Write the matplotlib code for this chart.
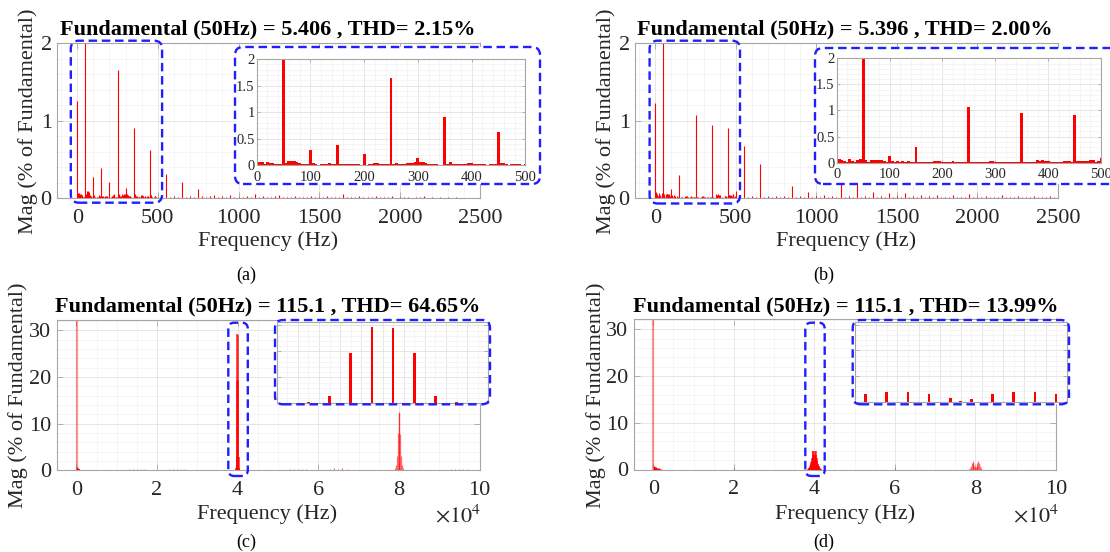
import numpy as np
import matplotlib
matplotlib.use("Agg")
import matplotlib.pyplot as plt
from matplotlib.patches import FancyBboxPatch
from matplotlib.ticker import MultipleLocator, FuncFormatter
from matplotlib.transforms import IdentityTransform

# ---------------------------------------------------------------- data
# Low-frequency spectra (5 Hz bins, 0..500 Hz), magnitude in % of fundamental
a_low_mag = [
    1.25, 0.07, 0.07, 0.02, 0.06, 0.05, 0.04, 0.02, 0.02, 0.02,
    100.0, 0.05, 0.09, 0.09, 0.08, 0.06, 0.04, 0.03, 0.02, 0.02,
    0.28, 0.04, 0.02, 0.01, 0.02, 0.02, 0.02, 0.04, 0.03, 0.02,
    0.39, 0.03, 0.03, 0.02, 0.03, 0.02, 0.03, 0.03, 0.02, 0.01,
    0.21, 0.01, 0.02, 0.03, 0.04, 0.05, 0.03, 0.02, 0.02, 0.02,
    1.65, 0.02, 0.05, 0.03, 0.03, 0.02, 0.05, 0.04, 0.05, 0.06,
    0.13, 0.06, 0.06, 0.04, 0.03, 0.03, 0.03, 0.02, 0.01, 0.01,
    0.91, 0.02, 0.06, 0.03, 0.03, 0.02, 0.02, 0.02, 0.02, 0.04,
    0.04, 0.03, 0.03, 0.02, 0.03, 0.02, 0.01, 0.03, 0.03, 0.02,
    0.62, 0.04, 0.04, 0.02, 0.01, 0.02, 0.03, 0.03, 0.02, 0.01,
    0.02]
b_low_mag = [
    1.23, 0.08, 0.06, 0.03, 0.02, 0.07, 0.04, 0.02, 0.05, 0.07,
    100.0, 0.06, 0.02, 0.06, 0.06, 0.06, 0.06, 0.06, 0.03, 0.02,
    0.12, 0.04, 0.02, 0.04, 0.02, 0.03, 0.01, 0.03, 0.02, 0.01,
    0.30, 0.01, 0.02, 0.02, 0.01, 0.01, 0.01, 0.03, 0.03, 0.03,
    0.02, 0.02, 0.01, 0.02, 0.03, 0.02, 0.02, 0.02, 0.02, 0.02,
    1.07, 0.02, 0.02, 0.02, 0.01, 0.01, 0.01, 0.02, 0.03, 0.03,
    0.02, 0.02, 0.02, 0.01, 0.02, 0.02, 0.01, 0.01, 0.02, 0.02,
    0.95, 0.02, 0.02, 0.01, 0.01, 0.02, 0.05, 0.04, 0.06, 0.04,
    0.04, 0.02, 0.01, 0.02, 0.01, 0.01, 0.03, 0.03, 0.03, 0.02,
    0.91, 0.04, 0.04, 0.04, 0.04, 0.03, 0.05, 0.05, 0.02, 0.03,
    0.09]

# Higher-frequency part (25 Hz steps, 525..2500 Hz)
a_high_mag = [
    0.03, 0.32, 0.02, 0.03, 0.02, 0.21, 0.02, 0.03, 0.02, 0.12,
    0.03, 0.02, 0.03, 0.04, 0.02, 0.03, 0.02, 0.04, 0.02, 0.02,
    0.02, 0.03, 0.02, 0.05, 0.02, 0.03, 0.02, 0.02, 0.03, 0.04,
    0.02, 0.02, 0.02, 0.03, 0.02, 0.02, 0.02, 0.03, 0.02, 0.02,
    0.02, 0.03, 0.02, 0.02, 0.02, 0.06, 0.02, 0.02, 0.02, 0.03,
    0.02, 0.02, 0.02, 0.03, 0.02, 0.02, 0.02, 0.03, 0.01, 0.02,
    0.02, 0.02, 0.01, 0.02, 0.02, 0.03, 0.01, 0.02, 0.01, 0.02,
    0.01, 0.02, 0.01, 0.02, 0.01, 0.01, 0.01, 0.01, 0.01, 0.01]
b_high_mag = [
    0.03, 0.675, 0.02, 0.03, 0.02, 0.44, 0.02, 0.03, 0.02, 0.03,
    0.02, 0.03, 0.02, 0.16, 0.02, 0.03, 0.02, 0.08, 0.02, 0.03,
    0.02, 0.04, 0.02, 0.03, 0.02, 0.18, 0.02, 0.03, 0.02, 0.18,
    0.02, 0.03, 0.02, 0.08, 0.02, 0.03, 0.02, 0.065, 0.02, 0.03,
    0.02, 0.07, 0.02, 0.03, 0.02, 0.04, 0.02, 0.03, 0.02, 0.04,
    0.02, 0.02, 0.02, 0.04, 0.02, 0.02, 0.02, 0.05, 0.02, 0.02,
    0.02, 0.03, 0.02, 0.02, 0.02, 0.04, 0.02, 0.02, 0.02, 0.03,
    0.02, 0.02, 0.02, 0.03, 0.02, 0.02, 0.02, 0.03, 0.02, 0.02]

# Wide-band spectra (Hz), magnitude in % of fundamental
fund_freq = 50
fund_mag = 100.0
c_low_freq = [150, 250, 350, 450, 550, 650, 750, 850, 950]
c_low_mag = [0.6, 0.5, 0.4, 0.35, 0.3, 0.25, 0.2, 0.15, 0.1]
carrier1 = 40000
carrier2 = 80000
c_sb1_offset = [-450, -350, -250, -150, -50, 50, 150, 250, 350, 450]
c_sb1_mag = [0.3, 0.4, 2.9, 19.2, 29.2, 29.0, 19.3, 2.9, 0.4, 0.3]
c_sb2_offset = [-900, -700, -500, -300, -100, 100, 300, 500, 700, 900]
c_sb2_mag = [0.5, 1.2, 3.0, 8.0, 12.3, 12.5, 7.8, 3.0, 1.2, 0.5]
c_noise_freq = [13000, 14000, 15000, 16000, 17000, 23000, 24000, 25000, 26000, 27000,
                53000, 54000, 55000, 56000, 57000, 63000, 64000, 65000, 66000, 67000,
                93000, 94000, 95000, 96000, 97000]
c_noise_mag = [0.2, 0.3, 0.25, 0.3, 0.2, 0.3, 0.35, 0.3, 0.35, 0.25,
               0.2, 0.25, 0.2, 0.25, 0.2, 0.35, 0.4, 0.35, 0.4, 0.3,
               0.2, 0.25, 0.2, 0.25, 0.2]

d_low_freq = [150, 350, 550, 750, 950, 1150, 1350, 1550, 1750, 1950]
d_low_mag = [0.7, 0.6, 0.5, 0.45, 0.4, 0.3, 0.25, 0.2, 0.15, 0.1]
d_sb1_offset = [-1550, -1450, -1350, -1250, -1150, -1050, -950, -850, -750, -650, -550,
                -450, -350, -250, -150, -50, 0, 50, 150, 250, 350, 450,
                550, 650, 750, 850, 950, 1050, 1150, 1250, 1350, 1450, 1550]
d_sb1_mag = [0.15, 0.2, 0.3, 0.4, 0.5, 0.7, 0.9, 1.2, 1.5, 1.9, 2.4,
             3.0, 3.9, 3.9, 3.0, 1.3, 0.3, 1.05, 3.0, 3.9, 3.9, 3.0,
             2.4, 1.9, 1.5, 1.2, 0.9, 0.7, 0.5, 0.4, 0.3, 0.2, 0.15]
d_sb2_offset = [-1500, -1300, -1100, -900, -700, -500, -300, -100,
                100, 300, 500, 700, 900, 1100, 1300, 1500]
d_sb2_mag = [0.2, 0.4, 0.8, 1.3, 1.8, 1.3, 0.8, 0.5,
             0.5, 0.8, 1.3, 1.8, 1.3, 0.8, 0.4, 0.2]
d_noise_freq = [20000, 60000]
d_noise_mag = [0.3, 0.3]

titles = ["Fundamental (50Hz) = 5.406 , THD= 2.15%",
          "Fundamental (50Hz) = 5.396 , THD= 2.00%",
          "Fundamental (50Hz) = 115.1 , THD= 64.65%",
          "Fundamental (50Hz) = 115.1 , THD= 13.99%"]
captions = ["(a)", "(b)", "(c)", "(d)"]
xlabel = "Frequency (Hz)"
ylabel = "Mag (% of Fundamental)"

# ---------------------------------------------------------------- style
plt.rcParams["font.family"] = ["Liberation Serif", "DejaVu Serif"]
plt.rcParams["mathtext.fontset"] = "stix"

W, H = 1110, 552
fig = plt.figure(figsize=(W / 100, H / 100), dpi=100)

SPINE = "#a6a6a6"
TXT = "#262626"
RED = "#ff0000"
BLUE = "#1f1fff"
gfmt = FuncFormatter(lambda v, p: f"{v:g}")
e4fmt = FuncFormatter(lambda v, p: f"{v / 1e4:g}")


def px_rect(l, t, r, b):
    return [l / W, 1 - b / H, (r - l) / W, (b - t) / H]


def style_axes(ax, xmaj, xmin, ymaj, ymin, size, padx, pady):
    ax.set_facecolor("white")
    for s in ax.spines.values():
        s.set_color(SPINE)
        s.set_linewidth(0.8)
    ax.xaxis.set_major_locator(MultipleLocator(xmaj))
    ax.xaxis.set_minor_locator(MultipleLocator(xmin))
    ax.yaxis.set_major_locator(MultipleLocator(ymaj))
    ax.yaxis.set_minor_locator(MultipleLocator(ymin))
    ax.grid(which="major", color="#e2e2e2", linewidth=0.6)
    ax.grid(which="minor", color="#f2f2f2", linewidth=0.5)
    ax.set_axisbelow(True)
    ax.tick_params(which="major", direction="in", top=True, right=True,
                   length=4, width=0.6, color=SPINE, labelcolor=TXT,
                   labelsize=size)
    ax.tick_params(which="minor", length=0)
    ax.tick_params(axis="x", pad=padx)
    ax.tick_params(axis="y", pad=pady)


def round_box(l, t, r, b, radius, filled, z):
    p = FancyBboxPatch((l, H - b), r - l, b - t,
                       boxstyle=f"round,pad=0,rounding_size={radius}",
                       transform=IdentityTransform(),
                       facecolor="white" if filled else "none",
                       edgecolor="none" if filled else BLUE,
                       linewidth=1.7, linestyle=(0, (3.6, 2.0)), zorder=z)
    fig.add_artist(p)


def fig_text(x, y, s, **kw):
    fig.text(x / W, 1 - y / H, s, ha="center", va="center", **kw)


low_freq = np.arange(0, 501, 5)
high_freq = np.arange(525, 2501, 25)

# ---------------------------------------------------------------- (a), (b)
top_panels = [
    dict(main=(56.6, 43.3, 480.4, 198.3), low=a_low_mag, high=a_high_mag,
         inset=(256.7, 59.0, 525.3, 165.3), ibox=(235, 47, 540, 184),
         zbox=(70.8, 40.7, 162.1, 202.7), dx=0),
    dict(main=(634.6, 43.3, 1058.0, 198.3), low=b_low_mag, high=b_high_mag,
         inset=(836.7, 58.3, 1101.0, 162.7), ibox=(815, 48, 1135, 184),
         zbox=(649.6, 40.7, 740.0, 203.5), dx=578),
]
for i, p in enumerate(top_panels):
    ax = fig.add_axes(px_rect(*p["main"]))
    ax.set_zorder(1)
    ax.vlines(np.concatenate([low_freq, high_freq]), 0,
              np.concatenate([p["low"], p["high"]]), color=RED, linewidth=0.8)
    ax.set_xlim(-128, 2500)
    ax.set_ylim(0, 2)
    style_axes(ax, 500, 100, 1, 0.2, 16, 7.5, 3.5)
    ax.xaxis.set_major_formatter(gfmt)
    ax.yaxis.set_major_formatter(gfmt)

    dx = p["dx"]
    fig_text(267.3 + dx, 29.3, titles[i], fontsize=16, fontweight="bold", color="black")
    fig_text(268.5 + dx, 240.7, xlabel, fontsize=16, color=TXT)
    fig_text(28.3 + dx, 120.8, ylabel, fontsize=16, color=TXT, rotation=90)
    fig_text(246 + dx, 275, captions[i], fontsize=13, color="black")

    round_box(*p["ibox"], 8, True, 2)
    ins = fig.add_axes(px_rect(*p["inset"]))
    ins.set_zorder(3)
    ins.bar(low_freq, p["low"], width=5.5, color=RED, linewidth=0)
    ins.set_xlim(0, 500)
    ins.set_ylim(0, 2)
    style_axes(ins, 100, 20, 0.5, 0.1, 10.5, 4, 1.5)
    ins.tick_params(length=2.5)
    ins.xaxis.set_major_formatter(gfmt)
    ins.yaxis.set_major_formatter(gfmt)
    round_box(*p["ibox"], 8, False, 4)
    round_box(*p["zbox"], 8, False, 4)

# ---------------------------------------------------------------- (c), (d)
bottom_panels = [
    dict(main=(56.6, 320.0, 479.6, 470.3), low_f=c_low_freq, low_m=c_low_mag,
         sb1=(c_sb1_offset, c_sb1_mag), sb2=(c_sb2_offset, c_sb2_mag),
         noise=(c_noise_freq, c_noise_mag),
         inset=(276.7, 322.3, 488.3, 403.3), ibox=(275, 320, 490, 404.3),
         zbox=(228.3, 322.7, 247.8, 476.0), dx=0),
    dict(main=(633.5, 319.0, 1056.0, 469.5), low_f=d_low_freq, low_m=d_low_mag,
         sb1=(d_sb1_offset, d_sb1_mag), sb2=(d_sb2_offset, d_sb2_mag),
         noise=(d_noise_freq, d_noise_mag),
         inset=(855.0, 321.7, 1066.7, 401.7), ibox=(852.7, 320, 1069, 404.3),
         zbox=(805.3, 322.7, 824.7, 476.0), dx=578),
]
for j, p in enumerate(bottom_panels):
    i = j + 2
    ax = fig.add_axes(px_rect(*p["main"]))
    ax.set_zorder(1)
    sb1_f = carrier1 + np.asarray(p["sb1"][0])
    sb2_f = carrier2 + np.asarray(p["sb2"][0])
    ax.vlines([fund_freq], 0, [fund_mag], color=RED, alpha=0.4, linewidth=1.6)
    ax.vlines(p["low_f"], 0, p["low_m"], color=RED, linewidth=0.8)
    ax.vlines(p["noise"][0], 0, p["noise"][1], color=RED, alpha=0.6, linewidth=0.8)
    ax.vlines(sb1_f, 0, p["sb1"][1], color=RED, alpha=0.85, linewidth=1.1)
    ax.vlines(sb2_f, 0, p["sb2"][1], color=RED, alpha=0.55, linewidth=0.9)
    ax.set_xlim(-4900, 100000)
    ax.set_ylim(0, 32.2)
    style_axes(ax, 20000, 5000, 10, 2, 16, 7.5, 4)
    ax.xaxis.set_major_formatter(e4fmt)
    ax.yaxis.set_major_formatter(gfmt)

    dx = p["dx"]
    fig_text(267.3 + dx, 306.0, titles[i], fontsize=16, fontweight="bold", color="black")
    fig_text(267.3 + dx, 514.0, xlabel, fontsize=16, color=TXT)
    fig_text(17.7 + dx, 395.0, ylabel, fontsize=16, color=TXT, rotation=90)
    fig_text(458.4 + dx, 516.0, r"$\times10^{4}$", fontsize=16, color=TXT)
    fig_text(246 + dx, 542.7, captions[i], fontsize=13, color="black")

    round_box(*p["ibox"], 8, True, 2)
    ins = fig.add_axes(px_rect(*p["inset"]))
    ins.set_zorder(3)
    ins.bar(sb1_f, p["sb1"][1], width=13, color=RED, linewidth=0)
    ins.set_xlim(39500, 40500)
    ins.set_ylim(0, 31.2)
    style_axes(ins, 100, 50, 10, 2, 8, 2, 2)
    ins.tick_params(labelbottom=False, labelleft=False, length=3)
    ins.tick_params(axis="x", length=0)
    round_box(*p["ibox"], 8, False, 4)
    round_box(*p["zbox"], 6, False, 4)

fig.savefig("out.png", dpi=100, facecolor="white")
